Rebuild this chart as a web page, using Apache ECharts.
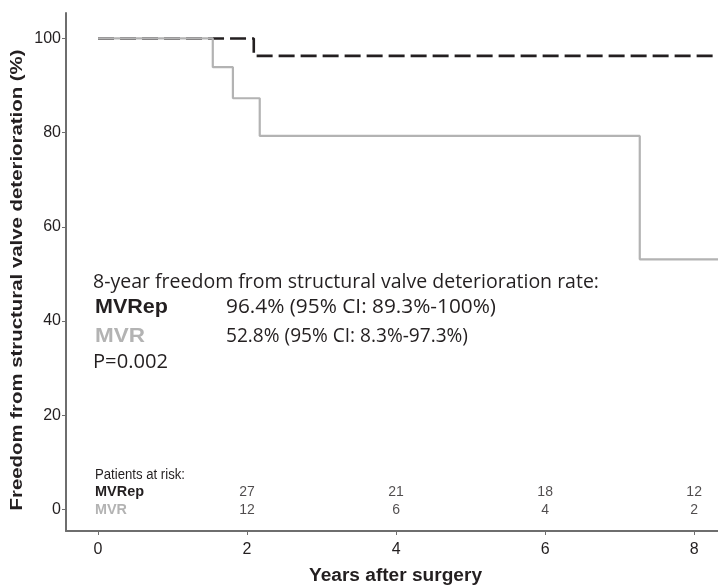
<!DOCTYPE html>
<html>
<head>
<meta charset="utf-8">
<script src="https://cdn.jsdelivr.net/npm/echarts@6/dist/echarts.min.js"></script>
<style>
  html, body { margin: 0; padding: 0; background: #fff; }
  #main { width: 718px; height: 585px; }
</style>
</head>
<body>
<div id="main"></div>
<script>
var chartDom = document.getElementById('main');
var myChart = echarts.init(chartDom);
var option;

// step points: [years, survival %]
var mvrepSteps = [[0, 100], [2.09, 96.3], [8.4, 96.3]];
var mvrSteps = [[0, 100], [1.54, 93.9], [1.81, 87.3], [2.17, 79.3], [7.27, 53.1], [8.4, 53.1]];

var xTicks = [0, 2, 4, 6, 8];
var yTicks = [0, 20, 40, 60, 80, 100];

// patients at risk table
var riskYears = [2, 4, 6, 8];
var riskMVRep = [27, 21, 18, 12];
var riskMVR = [12, 6, 4, 2];

var dark = '#231f20';
var grey = '#b3b3b3';
var axisGrey = '#6e6e6e';
var annoFont = '"Open Sans", Lato, sans-serif';
var arial = '"Liberation Sans", Arial, sans-serif';
var narrowFont = '"Liberation Sans Narrow", "Liberation Sans", Arial, sans-serif';

// fit each text to the width it has in the figure
var measureCtx = document.createElement('canvas').getContext('2d');
function stretch(text, font, width) {
    measureCtx.font = font;
    return width / measureCtx.measureText(text).width;
}

function label(text, font, color, x, y, width, align) {
    return {
        type: 'text', x: x, y: y, scaleX: stretch(text, font, width),
        style: {text: text, font: font, fill: color, align: align || 'left', verticalAlign: 'middle'}
    };
}

function riskRow(vals, y) {
    return riskYears.map(function (yr, i) { return {value: [yr, y], label: {formatter: String(vals[i])}}; });
}

var yTitle = 'Freedom from structural valve deterioration (%)';
var yTitleFont = 'bold 16.5px ' + arial;

option = {
    animation: false,
    grid: {left: 66, right: 0, top: 13, bottom: 54, outerBoundsMode: 'none', containLabel: false},
    xAxis: {
        type: 'value',
        min: -0.43,
        max: 8.32,
        splitLine: {show: false},
        axisLine: {onZero: false, lineStyle: {color: axisGrey, width: 2}},
        axisTick: {show: true, length: 4, customValues: xTicks, lineStyle: {color: axisGrey}},
        axisLabel: {customValues: xTicks, fontFamily: arial, fontSize: 16, color: dark, margin: 11}
    },
    yAxis: {
        type: 'value',
        min: -4.6,
        max: 105.4,
        splitLine: {show: false},
        axisLine: {show: true, onZero: false, lineStyle: {color: axisGrey, width: 2}},
        axisTick: {show: true, length: 4, customValues: yTicks, lineStyle: {color: axisGrey}},
        axisLabel: {customValues: yTicks, fontFamily: arial, fontSize: 16, color: dark, margin: 5}
    },
    series: [
        {
            name: 'MVRep',
            type: 'line',
            step: 'end',
            symbol: 'none',
            data: mvrepSteps,
            lineStyle: {color: dark, width: 2.6, type: [16, 6]},
            z: 2
        },
        {
            name: 'MVR',
            type: 'line',
            step: 'end',
            symbol: 'none',
            data: mvrSteps,
            lineStyle: {color: grey, width: 2.2},
            z: 3
        },
        {
            type: 'scatter',
            symbolSize: 0,
            silent: true,
            data: riskRow(riskMVRep, 3.57),
            label: {show: true, position: 'inside', fontFamily: narrowFont, fontSize: 14, color: dark}
        },
        {
            type: 'scatter',
            symbolSize: 0,
            silent: true,
            data: riskRow(riskMVR, -0.25),
            label: {show: true, position: 'inside', fontFamily: narrowFont, fontSize: 14, color: dark}
        }
    ],
    graphic: [
        {
            type: 'text', x: 17, y: 280, rotation: Math.PI / 2,
            scaleX: stretch(yTitle, yTitleFont, 461),
            style: {text: yTitle, font: yTitleFont, fill: dark, align: 'center', verticalAlign: 'middle'}
        },
        label('Years after surgery', 'bold 17.5px ' + arial, dark, 395.5, 576, 173, 'center'),
        label('8-year freedom from structural valve deterioration rate:', '19.5px ' + annoFont, dark, 93, 282, 506),
        label('MVRep', 'bold 21px ' + arial, dark, 95, 307, 73),
        label('96.4% (95% CI: 89.3%-100%)', '19.5px ' + annoFont, dark, 226, 307, 270),
        label('MVR', 'bold 21px ' + arial, grey, 95, 336, 50),
        label('52.8% (95% CI: 8.3%-97.3%)', '19.5px ' + annoFont, dark, 226, 336, 242),
        label('P=0.002', '19.5px ' + annoFont, dark, 93, 362, 75),
        label('Patients at risk:', '14px ' + narrowFont, dark, 95, 475, 90),
        label('MVRep', 'bold 14px ' + narrowFont, dark, 95, 492.5, 49),
        label('MVR', 'bold 14px ' + narrowFont, grey, 95, 510.5, 32)
    ]
};

option && myChart.setOption(option);
</script>
</body>
</html>
